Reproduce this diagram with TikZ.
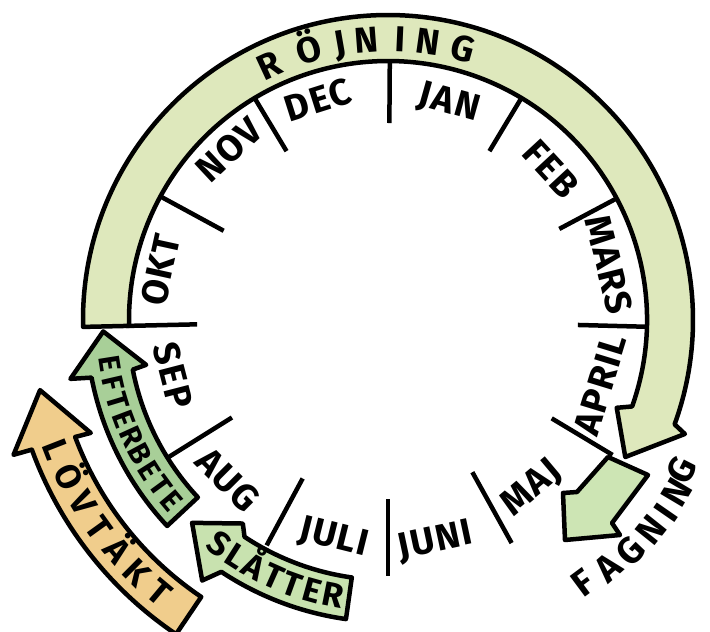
\documentclass[tikz,border=0pt]{standalone}
\usepackage{fontspec}
\setmainfont{Fira Sans}
\definecolor{rojfill}{HTML}{DEE8BC}
\definecolor{fagfill}{HTML}{CDE5B4}
\definecolor{eftfill}{HTML}{A8CF98}
\definecolor{slafill}{HTML}{C8E2AF}
\definecolor{lovfill}{HTML}{F0CD8C}
\tikzset{
  outline/.style={draw=black, line width=4.5pt, line join=round},
  tickline/.style={draw=black, line width=4.5pt},
  month/.style={font=\fontsize{37}{37}\selectfont\bfseries\addfontfeature{LetterSpace=4}, inner sep=0pt, text height=25.5pt, text depth=0pt},
  bandletter/.style={font=\fontsize{#1}{#1}\selectfont\bfseries, inner sep=0pt, text height=0.69*#1 pt, text depth=0pt},
}
\begin{document}
\begin{tikzpicture}[x=1pt,y=1pt]
\fill[white] (-388,-312) rectangle (322,320);
\useasboundingbox (-388,-312) rectangle (322,320);

% month ticks
\draw[tickline] (89.6:197pt) -- (89.6:260pt);
\draw[tickline] (59:197pt) -- (59:260pt);
\draw[tickline] (28:194pt) -- (28:258pt);
\draw[tickline] (-1.5:190pt) -- (-1.5:258pt);
\draw[tickline] (-31:191pt) -- (-31:262pt);
\draw[tickline] (-61:174pt) -- (-61:255pt);
\draw[tickline] (-90:179pt) -- (-90:256pt);
\draw[tickline] (241.7:180pt) -- (241.7:256pt);
\draw[tickline] (212:184pt) -- (212:262pt);
\draw[tickline] (181.3:191pt) -- (181.3:262pt);
\draw[tickline] (151.5:187pt) -- (151.5:260pt);
\draw[tickline] (121:197pt) -- (121:260pt);

% Röjning
\draw[outline, fill=rojfill] (181.3:305pt) arc[start angle=181.3, end angle=-20, radius=305pt]
  -- (-21:318pt) -- (-30:274pt) -- (-21:245pt) -- (-19.5:259pt)
  arc[start angle=-19.5, end angle=181.3, radius=259pt] -- cycle;

% Fagning
\draw[outline, fill=fagfill] (220,-137) -- (189,-172) -- (175,-173) -- (177,-220)
  -- (232,-215) -- (224,-203) -- (260,-155) -- cycle;

% Efterbete
\draw[outline, fill=eftfill] (223:260pt) arc[start angle=223, end angle=191, radius=260pt]
  -- (190.5:246pt) -- (182.3:285pt) -- (190.5:323pt) -- (191:302pt)
  arc[start angle=191, end angle=223, radius=302pt] -- cycle;

% Slåtter
\draw[outline, fill=slafill] (262:260pt) arc[start angle=262, end angle=236.5, radius=260pt]
  -- (234.5:250pt) -- (226:282pt) -- (234.5:320pt) -- (236.5:302pt)
  arc[start angle=236.5, end angle=262, radius=302pt] -- cycle;

% Lövtäkt
\draw[outline, fill=lovfill] (236:334pt) arc[start angle=236, end angle=200.5, radius=334pt]
  -- (200.8:318pt) -- (191.4:355pt) -- (199.8:398pt) -- (200:379pt)
  arc[start angle=200, end angle=236, radius=379pt] -- cycle;

% month labels
\node[month, rotate=-15.7] (jan) at (74.3:228pt) {JAN};
\node[month, rotate=-47.2] (feb) at (42.8:222pt) {FEB};
\node[month, rotate=-76] (mar) at (14:228pt) {MARS};
\node[month, rotate=73] (apr) at (343:222pt) {APRIL};
\node[month, rotate=40] (maj) at (310.5:219pt) {MAJ};
\node[month, rotate=12] (jun) at (282:224pt) {JUNI};
\node[month, rotate=-14] (jul) at (256:222pt) {JULI};
\node[month, rotate=-45] (aug) at (225:226pt) {AUG};
\node[month, rotate=-75.5] (sep) at (194.5:222pt) {SEP};
\node[month, rotate=77.6] (okt) at (167.6:233pt) {OKT};
\node[month, rotate=43] (nov) at (133:233pt) {NOV};
\node[month, rotate=17.6] (dec) at (107.6:231pt) {DEC};

% band texts
\foreach \ch/\ang [count=\i] in {R/114.9,Ö/106.4,J/99.9,N/94.3,I/87.5,N/81.9,G/74.6}
  \node[bandletter=36, rotate=\ang-90] (roj\i) at (\ang:281pt) {\ch};
\foreach \ch/\ang [count=\i] in {E/189,F/192.9,T/196.75,E/200.6,R/204.5,B/208.4,E/212.25,T/216.1,E/220}
  \node[bandletter=30, rotate=\ang+90] (eft\i) at (\ang:282pt) {\ch};
\foreach \ch/\ang [count=\i] in {S/233,L/237.3,Å/241.6,T/245.9,T/250.1,E/254.4,R/258.7}
  \node[bandletter=34, rotate=\ang+90] (sla\i) at (\ang:281pt) {\ch};
\foreach \ch/\ang [count=\i] in {L/201.3,Ö/206.1,V/210.9,T/215.7,Ä/220.4,K/225.2,T/230}
  \node[bandletter=35, rotate=\ang+90] (lov\i) at (\ang:356pt) {\ch};
\foreach \ch/\ang/\rr [count=\i] in {F/306.6/328,A/311.6/331,G/316.4/335,N/321.4/337,I/325.3/338,N/329.2/336,G/333/330}
  \node[bandletter=37, rotate=\ang+90] (fag\i) at (\ang:\rr pt) {\ch};
\end{tikzpicture}
\end{document}
